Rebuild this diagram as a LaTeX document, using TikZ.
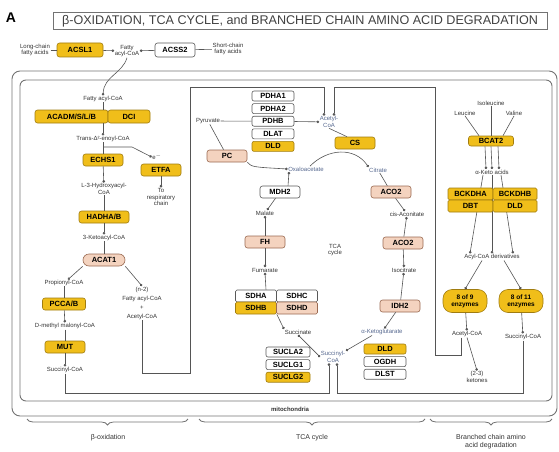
\documentclass[tikz,border=0pt]{standalone}
\usepackage{fontspec}
\setmainfont{Liberation Sans}
\usetikzlibrary{arrows.meta, positioning, calc, decorations.pathreplacing}
\definecolor{genegold}{HTML}{F0BE1A}
\definecolor{goldedge}{HTML}{A07C10}
\definecolor{genepeach}{HTML}{F4D3BF}
\definecolor{peachedge}{HTML}{9A6A52}
\definecolor{wireg}{HTML}{555555}
\definecolor{tcablue}{HTML}{56688F}

\begin{document}
\begin{tikzpicture}[
        x=1pt, y=-1pt,
        gene/.style={draw, rounded corners=2.5pt, line width=0.6pt,
                     minimum height=12pt, minimum width=40pt, inner sep=0.5pt,
                     font=\fontsize{7.5}{8}\selectfont\bfseries},
        gold/.style={gene, fill=genegold, draw=goldedge},
        peach/.style={gene, fill=genepeach, draw=peachedge},
        blank/.style={gene, fill=white, draw=black!65},
        stackbox/.style={minimum width=42pt, minimum height=10pt, rounded corners=2pt},
        cell/.style={minimum width=44pt, minimum height=12pt, rounded corners=1.5pt},
        enz/.style={gold, rounded corners=9pt, minimum width=44pt, minimum height=23pt,
                    align=center, font=\fontsize{6.5}{7}\selectfont\bfseries},
        metab/.style={inner sep=0.5pt, align=center, text=black!80,
                      font=\fontsize{6}{6.8}\selectfont},
        tcam/.style={metab, text=tcablue},
        wire/.style={draw=wireg, line width=0.6pt},
        conv/.style={wire, -{Circle[length=2.6pt]}},
        both/.style={wire, {Circle[length=2.6pt]}-{Circle[length=2.6pt]}},
        bracket/.style={draw=black!55, line width=0.8pt, decorate,
                        decoration={brace, mirror, amplitude=6pt}}
      ]
      \useasboundingbox (0,0) rectangle (559,452);
      \node[font=\fontsize{14}{14}\selectfont\bfseries] (panel) at (11,18) {A};
      \node[draw=black!55, line width=0.8pt, minimum width=494pt, minimum height=17pt,
            inner sep=0pt, text=black!75, font=\fontsize{12.6}{12.6}\selectfont]
        (title) at (300,21) {β-OXIDATION, TCA CYCLE, and BRANCHED CHAIN AMINO ACID DEGRADATION};
      \draw[black!55, line width=0.9pt, rounded corners=8pt] (12,71) rectangle (557,416);
      \draw[black!55, line width=0.9pt, rounded corners=6pt] (20,80) rectangle (552,401);
      \node[metab, font=\fontsize{6}{6}\selectfont\bfseries] (mito) at (290,409) {mitochondria};

      \node[metab] (lcfa) at (35,50) {Long-chain\\fatty acids};
      \node[gold, minimum width=46pt, minimum height=14pt] (acsl1) at (80,50) {ACSL1};
      \node[metab] (facoa) at (127,51) {Fatty\\acyl-CoA};
      \node[blank, minimum height=14pt] (acss2) at (175,50) {ACSS2};
      \node[metab] (scfa) at (228,49) {Short-chain\\fatty acids};
      \draw[wire] (lcfa) -- (acsl1);
      \draw[conv] (acsl1) -- (facoa);
      \draw[wire] (scfa) -- (acss2);
      \draw[conv] (acss2) -- (facoa);

      \node[metab] (fa1) at (103,99) {Fatty acyl-CoA};
      \draw[conv] (facoa.south) .. controls (122,74) and (104,76) .. (fa1.north);
      \node[gold, minimum width=73pt, minimum height=13pt] (acad) at (71.5,116.5) {ACADM/S/L/B};
      \node[gold, minimum width=42pt, minimum height=13pt] (dci) at (129,116.5) {DCI};
      \node[metab] (enoyl) at (103,139) {Trans-Δ²-enoyl-CoA};
      \draw[wire] (fa1) -- (fa1 |- acad.north);
      \draw[conv] (fa1 |- acad.south) -- (enoyl);
      \node[gold] (echs) at (103,160) {ECHS1};
      \draw[wire] (enoyl) -- (echs);
      \coordinate (ejoin) at (103,147);
      \coordinate (ebend) at (132,147);
      \node[metab] (elec) at (157,157) {e$^-$};
      \draw[conv] (ejoin) -- (ebend) -- (elec.west);
      \node[gold] (etfa) at (161,170) {ETFA};
      \node[metab] (resp) at (161,197) {To\\respiratory\\chain};
      \draw[conv] (etfa) -- (resp);
      \node[metab] (hydroxy) at (104,189) {L-3-Hydroxyacyl-\\CoA};
      \draw[conv] (echs) -- (hydroxy);
      \node[gold, minimum width=50pt] (hadh) at (104,217) {HADHA/B};
      \draw[wire] (hydroxy) -- (hadh);
      \node[metab] (ketoacyl) at (104,238) {3-Ketoacyl-CoA};
      \draw[conv] (hadh) -- (ketoacyl);
      \node[peach, rounded corners=6pt, minimum width=42pt] (acat1) at (104,260) {ACAT1};
      \draw[wire] (ketoacyl) -- (acat1);
      \node[metab] (propcoa) at (64,283) {Propionyl-CoA};
      \node[metab, font=\fontsize{6}{9}\selectfont] (nfa) at (142,303) {(n-2)\\Fatty acyl-CoA\\+\\Acetyl-CoA};
      \draw[conv] (acat1.south west) -- ([xshift=4pt]propcoa.north);
      \draw[conv] (acat1.south east) -- (nfa.north);
      \node[gold, minimum width=43pt] (pcc) at (64,304) {PCCA/B};
      \draw[wire] (propcoa) -- (pcc);
      \node[metab] (mmcoa) at (65,326) {D-methyl malonyl-CoA};
      \draw[conv] (pcc) -- (mmcoa);
      \node[gold] (mut) at (65,347) {MUT};
      \draw[wire] (mmcoa) -- (mut);
      \node[metab] (succa) at (65,370) {Succinyl-CoA};
      \draw[conv] (mut) -- (succa);

      \node[metab] (pyr) at (208,121) {Pyruvate};
      \node[blank, stackbox] (pdha1) at (273,96) {PDHA1};
      \node[blank, stackbox, below=2pt of pdha1] (pdha2) {PDHA2};
      \node[blank, stackbox, below=2pt of pdha2] (pdhb) {PDHB};
      \node[blank, stackbox, below=2pt of pdhb] (dlat) {DLAT};
      \node[gold, stackbox, below=2pt of dlat] (dlda) {DLD};
      \node[tcam] (accoa) at (329,122) {Acetyl-\\CoA};
      \draw[wire] (pyr) -- (pdhb);
      \draw[conv] (pdhb) -- (accoa);
      \node[peach] (pc) at (227,156) {PC};
      \draw[wire] (pyr) -- (pc);
      \node[tcam] (oaa) at (306,169) {Oxaloacetate};
      \draw[conv] (pc.south east) .. controls (252,167) .. (oaa.west);
      \node[gold] (cs) at (355,143) {CS};
      \draw[wire] (accoa.south) -- ([xshift=-8pt]cs.north);
      \node[tcam] (cit) at (378,170) {Citrate};
      \draw[conv] ([xshift=4pt]oaa.north) .. controls (328,148) and (355,147) .. (cit.north west);
      \node[peach] (aco2a) at (391,192) {ACO2};
      \draw[wire] (cit) -- (aco2a);
      \node[metab] (cisaco) at (407,214) {cis-Aconitate};
      \draw[conv] (aco2a) -- (cisaco);
      \node[peach] (aco2b) at (403,243) {ACO2};
      \draw[conv] (aco2b) -- (cisaco);
      \node[metab] (isocit) at (404,270) {Isocitrate};
      \draw[conv] (aco2b) -- (isocit);
      \node[peach] (idh2) at (400,306) {IDH2};
      \draw[conv] (idh2) -- (isocit);
      \node[tcam] (akg) at (382,332) {α-Ketoglutarate};
      \draw[conv] (idh2) -- (akg);
      \node[gold, stackbox] (dldb) at (385,349) {DLD};
      \node[blank, stackbox, below=2pt of dldb] (ogdh) {OGDH};
      \node[blank, stackbox, below=2pt of ogdh] (dlst) {DLST};
      \node[tcam] (succoa) at (333,357) {Succinyl-\\CoA};
      \draw[conv] ([xshift=-10pt]akg.south) -- (succoa.north east);
      \node[blank, stackbox, minimum width=44pt] (sucla2) at (288,352) {SUCLA2};
      \node[blank, stackbox, minimum width=44pt, below=2pt of sucla2] (suclg1) {SUCLG1};
      \node[gold, stackbox, minimum width=44pt, below=2pt of suclg1] (suclg2) {SUCLG2};
      \node[metab] (succinate) at (298,332) {Succinate};
      \draw[both] (succoa.west) -- (succinate.south);
      \node[blank, cell, minimum width=41pt] (sdha) at (256,296) {SDHA};
      \node[blank, cell, minimum width=41pt] (sdhc) at (297,296) {SDHC};
      \node[gold, cell, minimum width=41pt] (sdhb) at (256,308) {SDHB};
      \node[peach, cell, minimum width=41pt] (sdhd) at (297,308) {SDHD};
      \node[metab] (fum) at (265,270) {Fumarate};
      \draw[conv] (sdhb.south east) -- ([xshift=-14pt]succinate.north);
      \draw[conv] ([xshift=10pt]sdha.north) -- (fum.south);
      \node[peach] (fh) at (265,242) {FH};
      \node[metab] (mal) at (265,213) {Malate};
      \draw[conv] (fh) -- (fum);
      \draw[conv] (fh) -- (mal);
      \node[blank] (mdh2) at (280,192) {MDH2};
      \draw[conv] (mdh2) -- (mal);
      \draw[conv] ([xshift=8pt]mdh2.north) -- ([xshift=-17pt]oaa.south);
      \node[metab] (tcalbl) at (335,250) {TCA\\cycle};

      \node[metab] (ile) at (491,103) {Isoleucine};
      \node[metab] (leu) at (465,113) {Leucine};
      \node[metab] (val) at (514,113) {Valine};
      \node[gold, minimum width=45pt, minimum height=10pt] (bcat2) at (491,141) {BCAT2};
      \draw[wire] (leu.south) -- ([xshift=-12pt]bcat2.north);
      \draw[wire] (ile.south) -- (bcat2.north);
      \draw[wire] (val.south) -- ([xshift=12pt]bcat2.north);
      \node[metab] (keto) at (492,172) {α-Keto acids};
      \foreach \dx in {-6,0,7}
        \draw[conv] ([xshift=\dx pt]bcat2.south) -- ([xshift=\dx pt]keto.north);
      \node[metab] (acyl) at (492,257) {Acyl-CoA derivatives};
      \foreach \dx/\ex in {-9/-22,0/0,9/21}
        \draw[conv] ([xshift=\dx pt]keto.south) -- ([xshift=\ex pt]acyl.north);
      \node[gold, cell, minimum width=45pt] (bckdha) at (470.5,194) {BCKDHA};
      \node[gold, cell] (bckdhb) at (515,194) {BCKDHB};
      \node[gold, cell, minimum width=45pt] (dbt) at (470.5,206) {DBT};
      \node[gold, cell] (dldc) at (515,206) {DLD};
      \node[enz] (ov9) at (465,301) {8 of 9\\enzymes};
      \node[enz] (ov11) at (521,301) {8 of 11\\enzymes};
      \draw[conv] ([xshift=-10pt]acyl.south) -- (ov9.north);
      \draw[conv] ([xshift=12pt]acyl.south) -- (ov11.north);
      \node[metab] (accob) at (467,334) {Acetyl-CoA};
      \node[metab] (succb) at (523,337) {Succinyl-CoA};
      \draw[conv] (ov9) -- (accob);
      \draw[conv] (ov11) -- (succb);
      \node[metab] (keton) at (477,377) {(2-3)\\ketones};
      \draw[conv] (accob.south) -- (keton.north);

      \draw[conv] (nfa.south) |- (190,373) -- (190,87) -| ([xshift=-5pt]accoa.north);
      \draw[conv] ([xshift=-6pt]accob.south) |- (435,355) -- (435,87) -| ([xshift=5pt]accoa.north);
      \draw[conv] (succa.south) -- (succa.south |- 0,393) -| ([xshift=-4pt]succoa.south);
      \draw[conv] (succb.south) -- (succb.south |- 0,393) -| ([xshift=4pt]succoa.south);

      \draw[bracket] (27,419) -- (188,419);
      \draw[bracket] (199,419) -- (425,419);
      \draw[bracket] (430,419) -- (552,419);
      \node[metab, font=\fontsize{7}{8}\selectfont] (lblbeta) at (108,438) {β-oxidation};
      \node[metab, font=\fontsize{7}{8}\selectfont] (lbltca) at (312,438) {TCA cycle};
      \node[metab, font=\fontsize{7}{8}\selectfont] (lblbcaa) at (491,442) {Branched chain amino\\acid degradation};
    \end{tikzpicture}
\end{document}
